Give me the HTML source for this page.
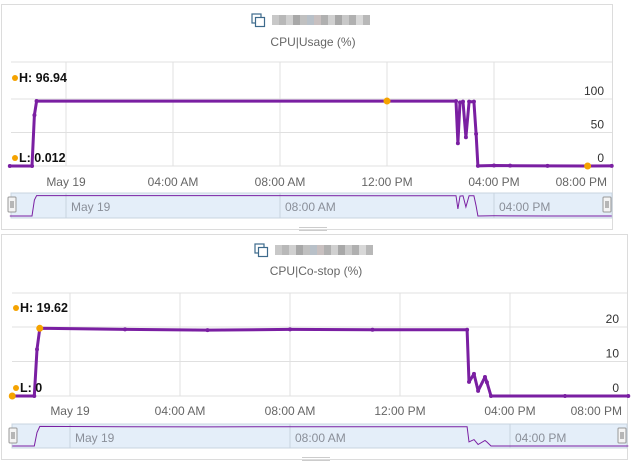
<!DOCTYPE html>
<html><head><meta charset="utf-8">
<style>
html,body{margin:0;padding:0;background:#fff;width:634px;height:466px;overflow:hidden;font-family:"Liberation Sans",sans-serif;}
svg{position:absolute;left:0;top:0;}
</style></head>
<body>
<svg id="chart" width="634" height="466"></svg>
<script>
// ---- Data: hours relative to May 19 00:00 ----
const usageTimes = [-2.1, -1.27, -1.18, -1.1, 12.0, 14.58, 14.65, 14.73, 14.84, 14.95, 15.07, 15.25, 15.33, 15.40, 16.0, 16.6, 18.0, 19.5, 20.4];
const usageValues = [0.012, 0.012, 76, 96.94, 96.9, 96.9, 34, 95, 96, 43, 96, 96, 48, 0.1, 0.8, 0.5, 0.2, 0.012, 0.1];
const costopTimes = [-2.1, -1.3, -1.2, -1.1, 2, 5, 8, 11, 14.44, 14.51, 14.69, 14.84, 15.09, 15.16, 15.31, 18, 20.3];
const costopValues = [0, 0, 13.5, 19.62, 19.3, 19.1, 19.3, 19.2, 19.2, 4.1, 6.4, 1.5, 5.5, 4, 0, 0, 0];
const xTickHours = [0, 4, 8, 12, 16, 20];
const xTickLabels = ["May 19", "04:00 AM", "08:00 AM", "12:00 PM", "04:00 PM", "08:00 PM"];
const navTickHours = [0, 8, 16];
const navTickLabels = ["May 19", "08:00 AM", "04:00 PM"];
const usageTicks = [0, 50, 100];
const costopTicks = [0, 10, 20];

const NS = "http://www.w3.org/2000/svg";
const svg = document.getElementById("chart");
function mk(tag, attrs, parent, name, inter) {
  const e = document.createElementNS(NS, tag);
  for (const k in attrs) e.setAttribute(k, attrs[k]);
  
  
  (parent || svg).appendChild(e);
  return e;
}
const PURPLE = "#7a1fa2", ORANGE = "#f5a300";

function panel(cfg) {
  const g = mk("g", {}, svg, cfg.name, false);
  mk("rect", {x: cfg.bx, y: cfg.by, width: cfg.bw, height: cfg.bh, fill: "#fff", stroke: "#dcdcdc"}, g, "panel-border", false);
  // icon
  const ic = mk("g", {}, g, "object-icon", false);
  mk("rect", {x: cfg.cx - 61, y: cfg.iconY - 6, width: 9, height: 9, fill: "none", stroke: "#3d6a8c", "stroke-width": 1.2}, ic, "icon-back", false);
  mk("rect", {x: cfg.cx - 57.5, y: cfg.iconY - 2.5, width: 9, height: 9, fill: "#fff", stroke: "#3d6a8c", "stroke-width": 1.2}, ic, "icon-front", false);
  // blurred name
  const bl = mk("g", {}, g, "object-name-blurred", false);
  const shades = ["#c8c8c8","#b8b8b8","#d0d0d0","#a8a8a8","#c0c0c0","#b8c0c8","#c8c0c0","#b0b0b0","#d0d0d0","#a8a8a8","#c8c8c8","#b0b0b0","#d8d8d8","#b8b8b8"];
  for (let i = 0; i < shades.length; i++) {
    const r = mk("rect", {x: cfg.cx - 41 + i * 7, y: cfg.iconY - 5, width: 7, height: 10, fill: shades[i]}, bl, "blur-block", false);
  }
  const t = mk("text", {x: cfg.cx, y: cfg.titleY, "text-anchor": "middle", "font-size": 12, fill: "#666"}, g, "chart-title", false);
  t.textContent = cfg.title;

  const L = cfg.pl, R = cfg.pr;
  const X = h => cfg.x0 + h * cfg.hw;
  const Y = v => cfg.y0 - v * (cfg.y0 - cfg.yTop) / cfg.yMaxTick;
  // grid
  mk("line", {x1: L, x2: R, y1: cfg.gridTop, y2: cfg.gridTop, stroke: "#e0e0e0"}, g, "grid-top", false);
  cfg.yTicks.forEach(v => {
    mk("line", {x1: L, x2: R, y1: Y(v), y2: Y(v), stroke: "#e0e0e0"}, g, "y-gridline", false);
    const tl = mk("text", {x: R - 8, y: Y(v) - 4, "text-anchor": "end", "font-size": 12, fill: "#333"}, g, "y-tick-label", false);
    tl.textContent = v;
  });
  xTickHours.forEach((h, i) => {
    if (i < 5) mk("line", {x1: X(h), x2: X(h), y1: cfg.gridTop, y2: cfg.y0, stroke: "#e0e0e0"}, g, "x-gridline", false);
    const a = i === 5 ? "end" : "middle";
    const xx = i === 5 ? R - 5 : X(h);
    const tl = mk("text", {x: xx, y: cfg.xLabY, "text-anchor": a, "font-size": 12, fill: "#666"}, g, "x-tick-label", false);
    tl.textContent = xTickLabels[i];
  });
  // series
  const pts = cfg.times.map((h, i) => X(h).toFixed(1) + "," + Y(cfg.vals[i]).toFixed(1)).join(" ");
  mk("polyline", {points: pts, fill: "none", stroke: PURPLE, "stroke-width": 3, "stroke-linejoin": "round"}, g, "series-line", false);
  cfg.times.forEach((h, i) => {
    mk("circle", {cx: X(h), cy: Y(cfg.vals[i]), r: 2, fill: PURPLE}, g, "series-point", true);
  });
  cfg.marks.forEach(m => {
    mk("circle", {cx: X(m[0]), cy: Y(m[1]), r: 3.5, fill: ORANGE}, g, "extreme-marker", true);
  });
  // H / L labels
  mk("circle", {cx: L + 4, cy: cfg.hY - 4, r: 3, fill: ORANGE}, g, "high-dot", false);
  const hl = mk("text", {x: L + 8, y: cfg.hY, "font-size": 12.5, "font-weight": "bold", fill: "#111"}, g, "high-label", false);
  hl.textContent = "H: " + cfg.hText;
  mk("circle", {cx: L + 4, cy: cfg.lY - 4, r: 3, fill: ORANGE}, g, "low-dot", false);
  const ll = mk("text", {x: L + 8, y: cfg.lY, "font-size": 12.5, "font-weight": "bold", fill: "#111"}, g, "low-label", false);
  ll.textContent = "L: " + cfg.lText;
  // navigator
  const nv = mk("g", {}, g, "navigator", true);
  mk("rect", {x: L, y: cfg.nTop, width: R - L, height: cfg.nH, fill: "#e4eef9", stroke: "#c8d4e0"}, nv, "navigator-window", true);
  navTickHours.forEach((h, i) => {
    mk("line", {x1: X(h), x2: X(h), y1: cfg.nTop, y2: cfg.nTop + cfg.nH, stroke: "#c8d4e0"}, nv, "nav-gridline", false);
    const tl = mk("text", {x: X(h) + 5, y: cfg.nTop + 18, "font-size": 12, fill: "#8a8f99"}, nv, "nav-tick-label", false);
    tl.textContent = navTickLabels[i];
  });
  const NY = v => cfg.nTop + cfg.nH - 2 - v / cfg.vmax * (cfg.nH - 4);
  const np = cfg.times.map((h, i) => X(h).toFixed(1) + "," + NY(cfg.vals[i]).toFixed(1)).join(" ");
  mk("polyline", {points: np, fill: "none", stroke: PURPLE, "stroke-width": 1}, nv, "nav-series-line", false);
  [L - 2, R - 8].forEach((hx, i) => {
    mk("rect", {x: hx - 1, y: cfg.nTop + 4, width: 8, height: 15, rx: 1, fill: "#f4f4f4", stroke: "#999"}, nv, i ? "nav-handle-right" : "nav-handle-left", true);
    mk("line", {x1: hx + 2, x2: hx + 2, y1: cfg.nTop + 8, y2: cfg.nTop + 15, stroke: "#777"}, nv, "handle-grip", false);
    mk("line", {x1: hx + 4, x2: hx + 4, y1: cfg.nTop + 8, y2: cfg.nTop + 15, stroke: "#777"}, nv, "handle-grip", false);
  });
  // resize grip
  mk("line", {x1: cfg.cx - 14, x2: cfg.cx + 14, y1: cfg.by + cfg.bh - 2, y2: cfg.by + cfg.bh - 2, stroke: "#ccc"}, g, "resize-grip", true);
  mk("line", {x1: cfg.cx - 14, x2: cfg.cx + 14, y1: cfg.by + cfg.bh + 1, y2: cfg.by + cfg.bh + 1, stroke: "#ccc"}, g, "resize-grip", true);
}

panel({name: "cpu-usage-panel", bx: 1.5, by: 4.5, bw: 611, bh: 225, cx: 313, iconY: 20, titleY: 46, title: "CPU|Usage (%)",
  pl: 11, pr: 612, x0: 66, hw: 26.75, y0: 166, yTop: 99, yMaxTick: 100, gridTop: 62, yTicks: usageTicks,
  xLabY: 186, times: usageTimes, vals: usageValues, vmax: 100,
  marks: [[12, 96.94], [19.5, 0.012]], hText: "96.94", lText: "0.012", hY: 82, lY: 162,
  nTop: 193, nH: 25});
panel({name: "cpu-costop-panel", bx: 1.5, by: 234.5, bw: 626, bh: 225, cx: 316, iconY: 250, titleY: 275, title: "CPU|Co-stop (%)",
  pl: 12, pr: 627, x0: 70, hw: 27.5, y0: 396, yTop: 327, yMaxTick: 20, gridTop: 293, yTicks: costopTicks,
  xLabY: 415, times: costopTimes, vals: costopValues, vmax: 20,
  marks: [[-1.1, 19.62], [-2.1, 0]], hText: "19.62", lText: "0", hY: 312, lY: 392,
  nTop: 424, nH: 24});
</script>
</body></html>
